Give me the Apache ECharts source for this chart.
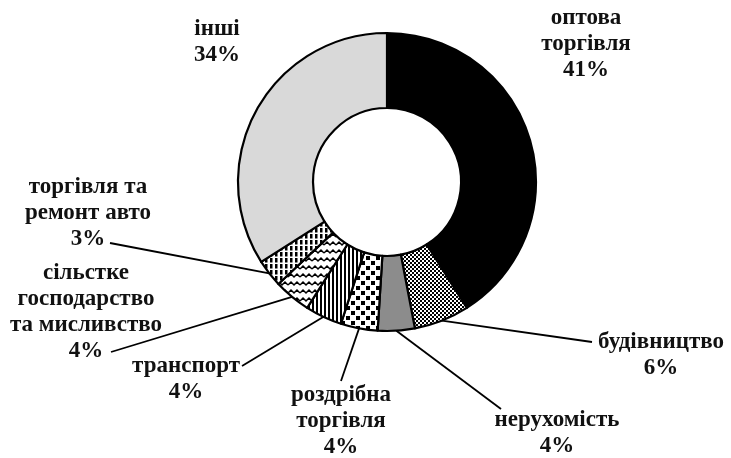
<!DOCTYPE html>
<html>
<head>
<meta charset="utf-8">
<script src="https://cdn.jsdelivr.net/npm/echarts@6/dist/echarts.min.js"></script>
<style>
  html, body { margin: 0; padding: 0; background: #fff; }
  #pie { width: 731px; height: 458px; }
</style>
</head>
<body>
<div id="pie"></div>
<script>
// дані
var names = ['оптова\nторгівля', 'будівництво', 'нерухомість', 'роздрібна\nторгівля',
  'транспорт', 'сільстке\nгосподарство\nта мисливство', 'торгівля та\nремонт авто', 'інші'];
var values = [41, 6, 4, 4, 4, 4, 3, 34];

// розміщення підписів (центр тексту) і кінці ліній-виносок
var labelAt = [[586, 44], [661, 355], [557, 433], [341, 421], [186, 379], [86, 312], [88, 213], [217, 42]];
var lineEnd = [null, [592, 342], [501, 409], [341, 381], [242, 366], [111, 352], [110, 243], null];

// штрихування
function pat(w, h, draw) {
  var c = document.createElement('canvas');
  c.width = w; c.height = h;
  var g = c.getContext('2d');
  g.fillStyle = '#fff';
  g.fillRect(0, 0, w, h);
  g.fillStyle = '#000';
  g.strokeStyle = '#000';
  draw(g);
  return { image: c, repeat: 'repeat' };
}
var fills = [
  '#000',
  pat(4, 4, function (g) { g.fillRect(0, 0, 2, 2); g.fillRect(2, 2, 2, 2); }),
  '#8c8c8c',
  pat(10, 10, function (g) { g.fillRect(1, 1, 4, 4); g.fillRect(6, 6, 4, 4); }),
  pat(4, 4, function (g) { g.fillRect(0, 0, 2, 4); }),
  pat(12, 8, function (g) {
    g.lineWidth = 1.5;
    g.beginPath(); g.moveTo(0, 5); g.lineTo(3, 2); g.lineTo(6, 5); g.lineTo(9, 2); g.lineTo(12, 5); g.stroke();
  }),
  pat(5, 6, function (g) { g.fillRect(0, 0, 2.5, 4.5); }),
  '#d9d9d9'
];

var chartDom = document.getElementById('pie');
var myChart = echarts.init(chartDom);
var data = names.map(function (n, i) {
  return {
    name: n,
    value: values[i],
    itemStyle: { color: fills[i] },
    labelLine: { show: lineEnd[i] != null }
  };
});
var option = {
  backgroundColor: '#fff',
  animation: false,
  series: [
    {
      type: 'pie',
      center: [387, 182],
      radius: [74, 149],
      startAngle: 90,
      clockwise: true,
      avoidLabelOverlap: false,
      itemStyle: { borderColor: '#000', borderWidth: 2.2 },
      label: {
        show: true,
        position: 'outside',
        formatter: '{b}\n{c}%',
        fontFamily: 'Liberation Serif',
        fontWeight: 'bold',
        fontSize: 23,
        lineHeight: 26,
        color: '#111',
        align: 'center'
      },
      labelLine: {
        length: 10,
        length2: 10,
        lineStyle: { color: '#000', width: 1.8 }
      },
      labelLayout: function (p) {
        var i = p.dataIndex;
        var out = { x: labelAt[i][0], y: labelAt[i][1], align: 'center', verticalAlign: 'middle' };
        if (lineEnd[i] && p.labelLinePoints) {
          var s = p.labelLinePoints[0];
          out.labelLinePoints = [[s[0], s[1]], lineEnd[i].slice(), lineEnd[i].slice()];
        }
        return out;
      },
      emphasis: { disabled: true },
      data: data
    }
  ]
};
myChart.setOption(option);
</script>
</body>
</html>
